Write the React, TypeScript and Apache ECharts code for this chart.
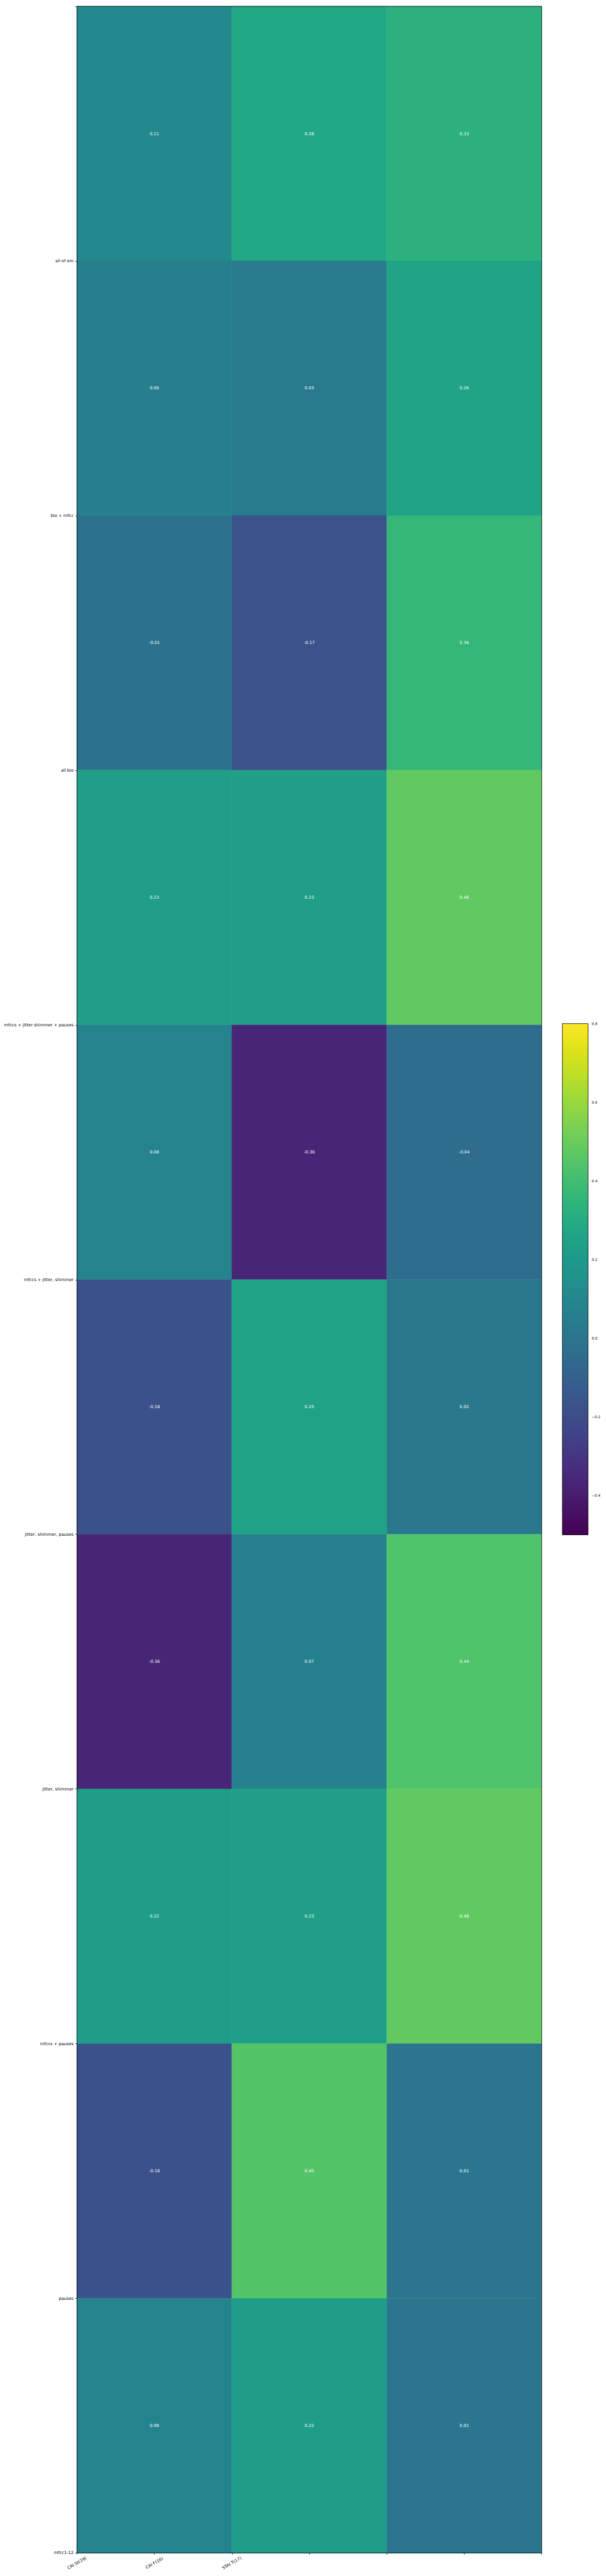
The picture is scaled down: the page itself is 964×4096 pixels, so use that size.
import React, { useEffect, useRef } from "react";
import * as echarts from "echarts";

const columns = ["CAI St(19)", "CAI F(18)", "STAI T(17)"];
// rows listed top to bottom; each label sits at the bottom edge of its row
const rowLabels = [
  "all of em",
  "bio + mfcc",
  "all bio",
  "mfccs + jitter shimmer + pauses",
  "mfccs + jitter, shimmer",
  "jitter, shimmer, pauses",
  "jitter, shimmer",
  "mfccs + pauses",
  "pauses",
  "mfcc1-12",
];
const caiSt = [0.11, 0.06, -0.01, 0.23, 0.08, -0.18, -0.36, 0.22, -0.18, 0.08];
const caiF = [0.28, 0.03, -0.17, 0.23, -0.36, 0.25, 0.07, 0.23, 0.45, 0.22];
const staiT = [0.33, 0.26, 0.36, 0.48, -0.04, 0.02, 0.44, 0.48, 0.01, 0.01];
const colorbarTicks = [-0.4, -0.2, 0.0, 0.2, 0.4, 0.6, 0.8];
const vMin = -0.5;
const vMax = 0.8;

const viridis = [
  "#440154", "#471365", "#482475", "#463480", "#414487", "#3b528b",
  "#355f8d", "#2f6c8e", "#2a788e", "#25848e", "#21918c", "#1e9c89",
  "#22a884", "#2fb47c", "#44bf70", "#5ec962", "#7ad151", "#9bd93c",
  "#bddf26", "#dfe318", "#fde725",
];

const FONT = "DejaVu Sans";
const S = 0.669;

export default function App() {
  const ref = useRef<HTMLDivElement>(null);
  useEffect(() => {
    document.body.style.margin = "0";
    const chart = echarts.init(ref.current!, null, { renderer: "svg" });
    const cols = [caiSt, caiF, staiT];
    const cells: number[][] = [];
    cols.forEach((arr, c) => arr.forEach((v, r) => cells.push([c, r, v])));
    const nRows = rowLabels.length;

    const gridLeft = 183 * S;
    const gridRight = 964 - 1288 * S;
    const gridTop = 15 * S;
    const gridBottom = 4096 - 6068 * S;
    const cbLeft = 1337.3 * S;
    const cbTop = 2433 * S;
    const cbW = 61 * S;
    const cbH = 1215 * S;

    const fmtCb = (v: number) =>
      v < 0 ? "\u2212" + Math.abs(v).toFixed(1) : v.toFixed(1);

    const n = viridis.length;
    // ascending offsets, top of bar = max colour
    const gradStops = viridis.map((_, i) => ({
      offset: i / (n - 1),
      color: viridis[n - 1 - i],
    }));

    chart.setOption({
      animation: false,
      backgroundColor: "#ffffff",
      textStyle: { fontFamily: FONT },
      grid: [
        { left: gridLeft, right: gridRight, top: gridTop, bottom: gridBottom },
        { left: cbLeft, width: cbW, top: cbTop, height: cbH },
      ],
      visualMap: {
        show: false,
        type: "continuous",
        min: vMin,
        max: vMax,
        dimension: 2,
        seriesIndex: 0,
        inRange: { color: viridis },
      },
      xAxis: [
        {
          gridIndex: 0,
          type: "value",
          min: 0,
          max: columns.length,
          interval: 0.5,
          splitLine: { show: false },
          axisLine: { show: true, onZero: false, lineStyle: { color: "#000", width: 0.8 } },
          axisTick: { show: true, length: 3.5 * S, lineStyle: { color: "#000", width: 0.8 } },
          axisLabel: {
            color: "#000",
            fontFamily: FONT,
            fontSize: 10 * S,
            rotate: 30,
            align: "center",
            verticalAlign: "middle",
            margin: 16,
            formatter: (v: number) => {
              const i = Math.round(v / 0.5);
              return i < columns.length ? columns[i] : "";
            },
          },
        },
        {
          gridIndex: 1,
          type: "value",
          min: 0,
          max: 1,
          show: false,
        },
      ],
      yAxis: [
        {
          gridIndex: 0,
          type: "value",
          min: 0,
          max: nRows,
          interval: 1,
          splitLine: { show: false },
          axisLine: { show: true, onZero: false, lineStyle: { color: "#000", width: 0.8 } },
          axisTick: { show: true, length: 3.5 * S, lineStyle: { color: "#000", width: 0.8 } },
          axisLabel: {
            color: "#000",
            fontFamily: FONT,
            fontSize: 10 * S,
            margin: 8 * S,
            formatter: (v: number) => {
              const i = nRows - 1 - Math.round(v);
              return i >= 0 && i < nRows ? rowLabels[i] : "";
            },
          },
        },
        {
          gridIndex: 1,
          type: "value",
          position: "right",
          min: vMin,
          max: vMax,
          splitLine: { show: false },
          axisLine: { show: false },
          axisTick: {
            show: true,
            length: 3.5 * S,
            customValues: colorbarTicks,
            lineStyle: { color: "#000", width: 0.8 },
          },
          axisLabel: {
            color: "#000",
            fontFamily: FONT,
            fontSize: 8.5 * S,
            margin: 8.7 * S,
            customValues: colorbarTicks,
            formatter: (v: number) => fmtCb(v),
          },
        },
      ],
      series: [
        {
          type: "custom",
          xAxisIndex: 0,
          yAxisIndex: 0,
          data: cells,
          encode: { x: 0, y: 1 },
          renderItem: (params: any, api: any) => {
            const c = api.value(0);
            const r = api.value(1);
            const v = api.value(2);
            const p0 = api.coord([c, nRows - r]);
            const p1 = api.coord([c + 1, nRows - r - 1]);
            const color = api.visual("color");
            return {
              type: "rect",
              shape: { x: p0[0], y: p0[1], width: p1[0] - p0[0], height: p1[1] - p0[1] },
              style: { fill: color, stroke: color, lineWidth: 0.5 },
              textContent: {
                style: {
                  text: v.toFixed(2),
                  fill: "#ffffff",
                  fontSize: 10 * S,
                  fontFamily: FONT,
                },
              },
              textConfig: { position: "inside" },
            };
          },
          z: 1,
        },
        {
          type: "custom",
          xAxisIndex: 1,
          yAxisIndex: 1,
          data: [[0, vMin, vMax]],
          renderItem: (params: any, api: any) => {
            const pTop = api.coord([0, api.value(2)]);
            const pBot = api.coord([1, api.value(1)]);
            return {
              type: "rect",
              shape: { x: pTop[0], y: pTop[1], width: pBot[0] - pTop[0], height: pBot[1] - pTop[1] },
              style: {
                fill: new echarts.graphic.LinearGradient(0, 0, 0, 1, gradStops),
                stroke: "#000",
                lineWidth: 0.8,
              },
            };
          },
        },
      ],
      graphic: [
        {
          type: "rect",
          z: 100,
          silent: true,
          shape: {
            x: gridLeft,
            y: gridTop,
            width: 964 - gridRight - gridLeft,
            height: 4096 - gridBottom - gridTop,
          },
          style: { fill: "none", stroke: "#000", lineWidth: 0.8 },
        },
      ],
    });
    return () => chart.dispose();
  }, []);
  return <div ref={ref} style={{ width: 964, height: 4096 }} />;
}
